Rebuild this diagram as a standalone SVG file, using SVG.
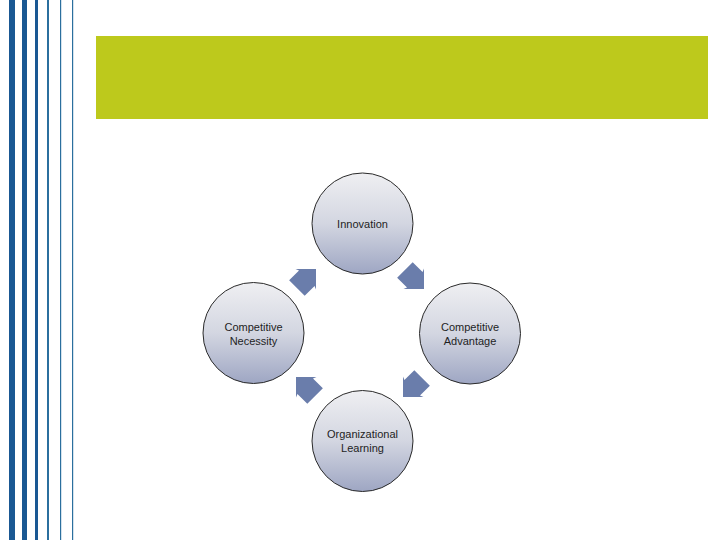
<svg xmlns="http://www.w3.org/2000/svg" width="720" height="540" viewBox="0 0 720 540">
<defs>
<linearGradient id="cg" x1="0" y1="0" x2="0" y2="1">
<stop offset="0" stop-color="#efeff2"/>
<stop offset="0.5" stop-color="#d3d6e1"/>
<stop offset="1" stop-color="#9ea6c3"/>
</linearGradient>
<polygon id="arw" points="0,0 -14.5,-14.5 -13,-11 -27,-11 -27,11 -13,11 -14.5,14.5"/>
</defs>
<style>
.node circle{fill:url(#cg);stroke:#2a2a2a;stroke-width:1}
.node text{font-family:"Liberation Sans",Arial,sans-serif;font-size:11px;fill:#1e1e1e;text-anchor:middle}
.conn use{fill:#6a7dab}
.bar1{fill:#1a5893}
.bar2{fill:#2b6f9e}
</style>
<rect width="720" height="540" fill="#ffffff"/>
<g id="stripes">
<rect class="bar1" x="9" y="0" width="6" height="540"/>
<rect class="bar1" x="22" y="0" width="5" height="540"/>
<rect class="bar1" x="35" y="0" width="3" height="540"/>
<rect class="bar2" x="47" y="0" width="2" height="540"/>
<rect class="bar2" x="60" y="0" width="1.2" height="540"/>
<rect class="bar2" x="72" y="0" width="1.2" height="540"/>
</g>
<rect id="title-band" x="96" y="36" width="612" height="83" fill="#bdc91c"/>
<g id="connectors" class="conn">
<use href="#arw" transform="translate(316,269) rotate(-45)"/>
<use href="#arw" transform="translate(424,289) rotate(45)"/>
<use href="#arw" transform="translate(403,397) rotate(135)"/>
<use href="#arw" transform="translate(296,377) rotate(225)"/>
</g>
<g id="innovation" class="node">
<circle cx="362.5" cy="223.5" r="50.5"/>
<text x="362.5" y="228">Innovation</text>
</g>
<g id="competitive-advantage" class="node">
<circle cx="470" cy="333.5" r="50.5"/>
<text x="470" y="331">Competitive</text>
<text x="470" y="345">Advantage</text>
</g>
<g id="organizational-learning" class="node">
<circle cx="362.5" cy="441" r="50.5"/>
<text x="362.5" y="438">Organizational</text>
<text x="362.5" y="452">Learning</text>
</g>
<g id="competitive-necessity" class="node">
<circle cx="253.5" cy="333" r="50.5"/>
<text x="253.5" y="331">Competitive</text>
<text x="253.5" y="345">Necessity</text>
</g>
</svg>
